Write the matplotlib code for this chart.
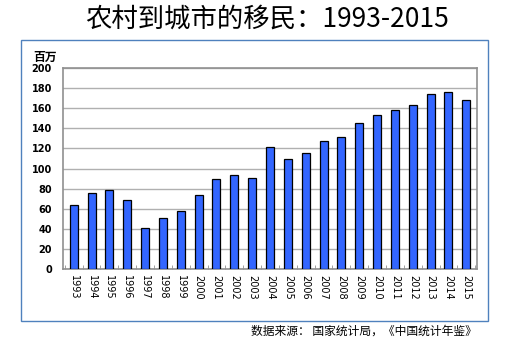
import matplotlib.pyplot as plt
import matplotlib.patches as mpatches
import numpy as np

plt.rcParams['font.family'] = ['Noto Sans CJK SC', 'DejaVu Sans']

years = [str(y) for y in range(1993, 2016)]
migrants = [64, 76, 79, 69, 41, 51, 58, 74, 90, 94, 91, 121,
            109, 115, 127, 131, 145, 153, 158, 163, 174, 176, 168]
yticks = list(range(0, 201, 20))

fig = plt.figure(figsize=(5.09, 3.47), dpi=100)
fig.patches.append(mpatches.Rectangle((21 / 509, 1 - 321 / 347), 467 / 509, 281 / 347,
                                      transform=fig.transFigure, fill=False,
                                      edgecolor='#4f81bd', linewidth=1.0))

ax = fig.add_axes([63 / 509, 1 - 269 / 347, 414 / 509, 201 / 347])
x = np.arange(len(years))
ax.bar(x, migrants, width=0.45, color='#3366ff', edgecolor='black', linewidth=0.9, zorder=3)

ax.set_ylim(0, 200)
ax.set_xlim(-0.6, len(years) - 0.4)
ax.set_yticks(yticks)
ax.set_yticklabels([str(v) for v in yticks], fontsize=7, fontweight='bold', family='DejaVu Sans')
ax.tick_params(axis='y', length=0, pad=8)
ax.yaxis.grid(True, color='#b0b0b0', linewidth=1.0, zorder=0)
ax.set_xticks(x)
ax.set_xticklabels(years, rotation=270, fontsize=7, family='DejaVu Sans')
ax.tick_params(axis='x', length=0, pad=4)
ax.set_xticks(np.arange(len(years) + 1) - 0.5, minor=True)
ax.tick_params(axis='x', which='minor', length=3, color='#909090', direction='in')
for s in ax.spines.values():
    s.set_color('#909090')
    s.set_linewidth(1.2)

fig.text(33 / 509, 1 - 57 / 347, '百万', fontsize=8.5, fontweight='bold', ha='left', va='center')
fig.text(267 / 509, 1 - 19 / 347, '农村到城市的移民：1993-2015', fontsize=19,
         ha='center', va='center')
fig.text(477 / 509, 1 - 331 / 347, '数据来源： 国家统计局，《中国统计年鉴》', fontsize=8.5,
         ha='right', va='center')

fig.savefig('out.png', dpi=100)
